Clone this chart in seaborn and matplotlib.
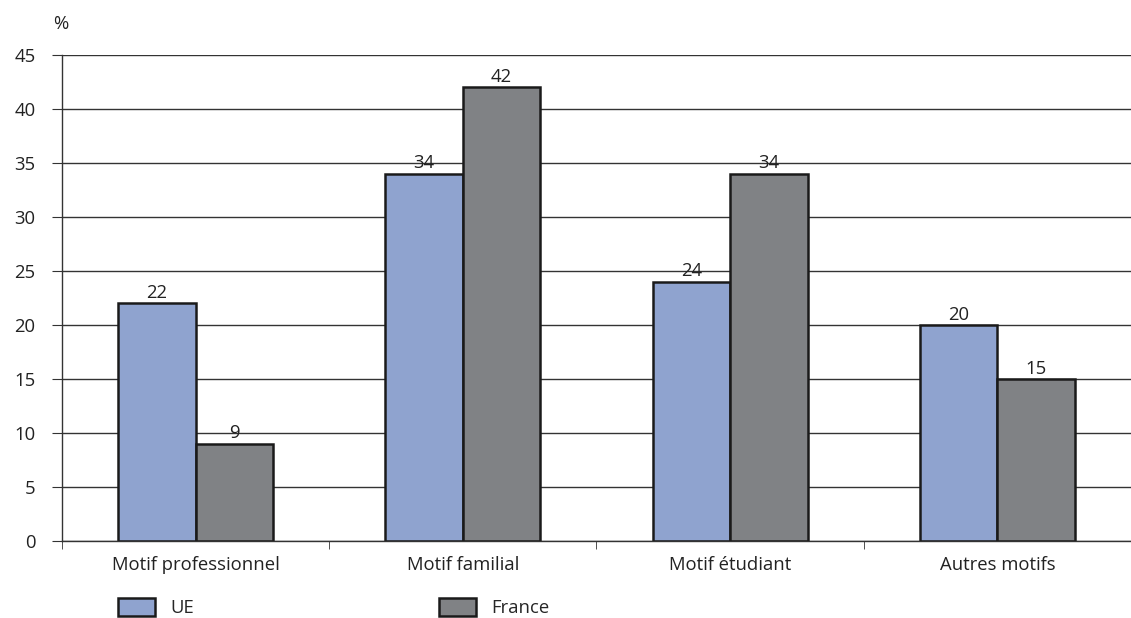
import pandas as pd
import matplotlib.pyplot as plt
import seaborn as sns

# data
categories = ['Motif professionnel', 'Motif familial', 'Motif étudiant', 'Autres motifs']
ue_values = [22, 34, 24, 20]
france_values = [9, 42, 34, 15]
series_names = ['UE', 'France']

df = pd.DataFrame({
    'Motif': categories * 2,
    'Serie': [series_names[0]] * 4 + [series_names[1]] * 4,
    'Valeur': ue_values + france_values,
})

sns.set_style('white')
plt.rcParams['font.family'] = ['Open Sans', 'DejaVu Sans']
fs = 13.3

fig = plt.figure(figsize=(11.31, 6.18), dpi=100)
ax = fig.add_axes([0.0548, 0.1246, 0.9452, 0.7865])

sns.barplot(data=df, x='Motif', y='Valeur', hue='Serie', ax=ax,
            palette=['#8fa3cf', '#808285'], width=0.58, gap=0,
            edgecolor='#1a1a1a', linewidth=1.8, saturation=1)

# value labels above bars
for cont in ax.containers:
    ax.bar_label(cont, fontsize=fs, color='#222222', padding=1)

# axes styling
ax.set_ylim(0, 45)
ax.set_yticks(range(0, 46, 5))
ax.set_xlim(-0.5, 3.5)
ax.yaxis.grid(True, color='#333333', linewidth=1)
ax.set_axisbelow(True)
ax.set_xlabel('')
ax.set_ylabel('')

for s in ['top', 'right']:
    ax.spines[s].set_visible(False)
for s in ['left', 'bottom']:
    ax.spines[s].set_color('#333333')
    ax.spines[s].set_linewidth(1)

ax.tick_params(axis='y', length=7, color='#333333', labelsize=fs,
               labelcolor='#222222', pad=12, direction='out', left=True)
ax.set_xticks([0, 1, 2, 3])
ax.set_xticklabels(categories, fontsize=fs, color='#222222')
ax.tick_params(axis='x', length=0, pad=11)
# minor ticks between categories
ax.set_xticks([-0.5, 0.5, 1.5, 2.5], minor=True)
ax.tick_params(axis='x', which='minor', length=6, color='#333333', direction='out', bottom=True)

ax.text(-0.008, 1.045, '%', transform=ax.transAxes, fontsize=fs, color='#222222',
        ha='left', va='bottom')

# legend at the bottom (cut by the lower edge, as in the original)
handles, labels = ax.get_legend_handles_labels()
ax.get_legend().remove()
fig.legend(handles, labels, loc='upper left', bbox_to_anchor=(0.1045, 0.032),
           ncol=2, frameon=False, fontsize=fs, handlelength=2.0, handleheight=1.1,
           handletextpad=0.8, columnspacing=13.3, borderpad=0, borderaxespad=0)

plt.savefig('out.png', dpi=100)
